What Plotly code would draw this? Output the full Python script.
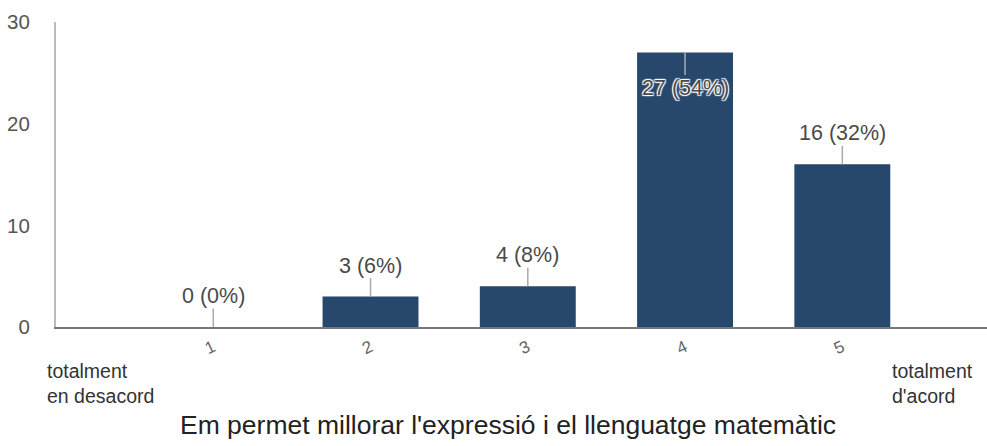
import plotly.graph_objects as go

# Likert-scale responses (1 = totalment en desacord, 5 = totalment d'acord)
categories = [1, 2, 3, 4, 5]
counts = [0, 3, 4, 27, 16]
percents = [0, 6, 8, 54, 32]
tick_labels = ["1", "2", "3", "4", "5"]

bar_color = "#27476d"
label_font = "Liberation Sans, Arial, sans-serif"

fig = go.Figure()
fig.add_trace(go.Bar(
    x=categories,
    y=counts,
    width=0.61,
    marker=dict(color=bar_color, line=dict(width=0)),
    hoverinfo="skip",
))

# value labels with leader lines
annotations = []
ymax = 30
halo = "1px 1px 1px #fff, -1px -1px 1px #fff, 1px -1px 1px #fff, -1px 1px 1px #fff"
for c, n, p in zip(categories, counts, percents):
    inside = n > ymax - 4
    annotations.append(dict(
        x=c, y=n, xref="x", yref="y",
        text=f"{n} ({p}%)",
        showarrow=True, arrowhead=0, arrowwidth=1.5, arrowcolor="#aaaaaa",
        ax=0, ay=35 if inside else -31,
        font=dict(family=label_font, size=21.5, color="#4a4a4a",
                  shadow=halo if inside else "none"),
        borderpad=0,
    ))

annotations += [
    dict(x=-0.0118, y=-0.185, xref="paper", yref="paper", xanchor="left", yanchor="middle",
         text="totalment<br>en desacord", showarrow=False, align="left",
         font=dict(family=label_font, size=19.5, color="#333333")),
    dict(x=0.8958, y=-0.185, xref="paper", yref="paper", xanchor="left", yanchor="middle",
         text="totalment<br>d'acord", showarrow=False, align="left",
         font=dict(family=label_font, size=19.5, color="#333333")),
    dict(x=0.4855, y=-0.321, xref="paper", yref="paper", xanchor="center", yanchor="middle",
         text="Em permet millorar l'expressió i el llenguatge matemàtic", showarrow=False,
         font=dict(family=label_font, size=26.5, color="#222222")),
]

fig.update_layout(
    width=987, height=446,
    margin=dict(l=56, r=0, t=22, b=119),
    paper_bgcolor="white", plot_bgcolor="white",
    showlegend=False,
    annotations=annotations,
    xaxis=dict(
        range=[0, 5.92],
        tickmode="array", tickvals=categories, ticktext=tick_labels,
        tickangle=-25,
        tickfont=dict(family=label_font, size=17, color="#666666"),
        showgrid=False, zeroline=False,
        showline=True, linecolor="#777777", linewidth=2,
        ticks="", ticklabelstandoff=2,
    ),
    yaxis=dict(
        range=[0, ymax],
        tickvals=[0, 10, 20, 30],
        tickfont=dict(family=label_font, size=20.5, color="#555555"),
        showgrid=False, zeroline=False,
        showline=True, linecolor="#bbbbbb", linewidth=2,
        ticks="", ticklabelstandoff=20,
    ),
)

fig.write_html("out.html")
